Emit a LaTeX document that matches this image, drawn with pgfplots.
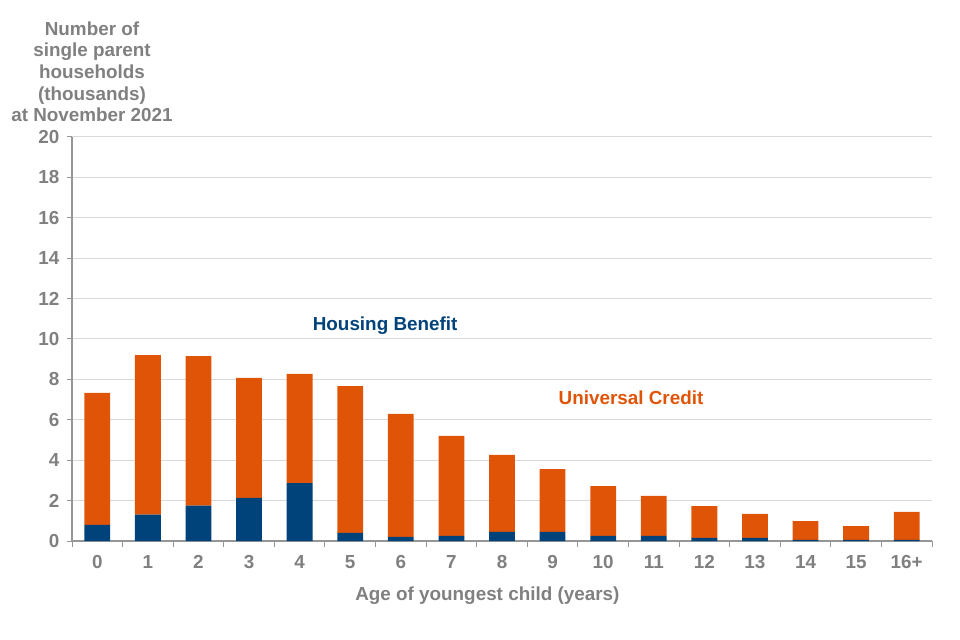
\documentclass[border=0pt]{standalone}
\usepackage{pgfplots}
\pgfplotsset{compat=1.18}
\usepackage{fontspec}
\setmainfont{Liberation Sans}

\definecolor{ucorange}{RGB}{224,84,8}
\definecolor{hbnavy}{RGB}{0,66,122}
\definecolor{txtgrey}{RGB}{128,128,128}
\definecolor{axgrey}{RGB}{150,150,150}
\definecolor{gridgrey}{RGB}{217,217,217}

\begin{document}
\begin{tikzpicture}[x=1bp,y=1bp]
% 1 px of the 960x640 reference = 0.75bp; axis box is 860x404 px
\useasboundingbox (-54bp,-74.25bp) rectangle (666bp,405.75bp);
\begin{axis}[
    at={(0,0)}, anchor=south west,
    scale only axis,
    width=645bp, height=303bp,
    ybar stacked,
    bar width=0.51,
    xmin=-0.5, xmax=16.5,
    ymin=0, ymax=20,
    ytick={0,2,...,20},
    xtick={0,...,16},
    xticklabels={0,1,2,3,4,5,6,7,8,9,10,11,12,13,14,15,16+},
    minor xtick={-0.5,0.5,...,16.5},
    major x tick style={draw=none},
    minor tick length=4.5bp,
    major tick length=4bp,
    tick align=outside,
    tick style={axgrey, line width=0.75bp},
    axis x line*=bottom,
    axis y line*=left,
    axis line style={axgrey, line width=0.9bp, -},
    ymajorgrids,
    grid style={gridgrey, line width=0.75bp},
    font=\fontsize{14.2}{16}\selectfont\bfseries,
    ticklabel style={txtgrey},
    xticklabel style={yshift=-3bp},
    yticklabel style={xshift=-2bp},
    xlabel={Age of youngest child (years)},
    xlabel style={txtgrey, yshift=-7bp, xshift=-11bp},
    /pgf/number format/assume math mode=true,
]
% Housing Benefit
\addplot[fill=hbnavy, draw=none] coordinates {
(0,0.80) (1,1.30) (2,1.75) (3,2.13) (4,2.87) (5,0.40) (6,0.20) (7,0.25) (8,0.45)
(9,0.45) (10,0.25) (11,0.25) (12,0.15) (13,0.15) (14,0.05) (15,0.05) (16,0.05)};
% Universal Credit
\addplot[fill=ucorange, draw=none] coordinates {
(0,6.53) (1,7.90) (2,7.40) (3,5.94) (4,5.40) (5,7.27) (6,6.09) (7,4.95) (8,3.81)
(9,3.11) (10,2.47) (11,1.98) (12,1.58) (13,1.19) (14,0.94) (15,0.69) (16,1.39)};
\node[hbnavy] at (axis cs:5.69,10.65) {Housing Benefit};
\node[ucorange] at (axis cs:10.55,7.1) {Universal Credit};
\end{axis}
\node[txtgrey, align=center, font=\fontsize{14.2}{16.3}\selectfont\bfseries] at (15bp,352bp)
{Number of\\single parent\\households\\(thousands)\\at November 2021};
\end{tikzpicture}
\end{document}
